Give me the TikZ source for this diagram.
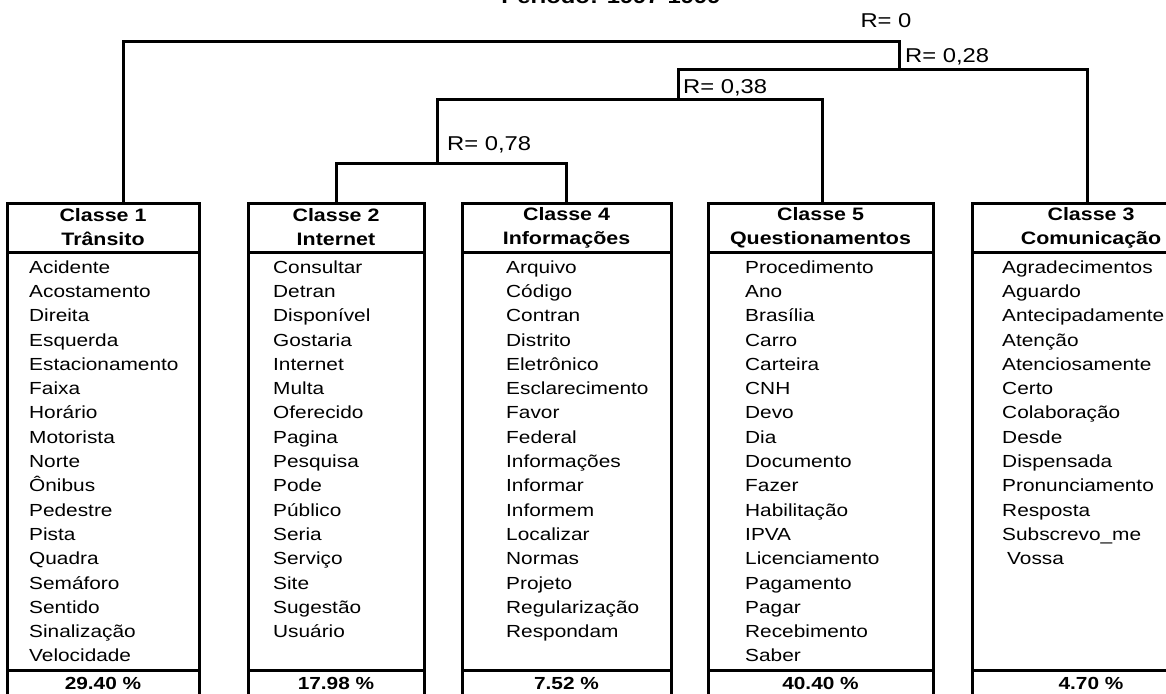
\documentclass[tikz,border=0pt]{standalone}
\usepackage{fontspec}
\setmainfont{Liberation Sans}[FakeStretch=1.19]
\usetikzlibrary{positioning}

\begin{document}
\begin{tikzpicture}[x=1pt,y=-1pt,
  frame/.style={draw,line width=3pt,inner sep=0pt,outer sep=0pt,anchor=north west},
  head/.style={frame,minimum height=49pt,align=center,font=\bfseries\fontsize{18}{24}\selectfont},
  list/.style={frame,minimum height=418pt},
  pct/.style={frame,minimum height=26pt,font=\bfseries\fontsize{17.5}{21}\selectfont},
  word/.style={anchor=base west,inner sep=0pt,font=\fontsize{17.5}{21}\selectfont},
  rlab/.style={inner sep=0pt,font=\fontsize{20}{24}\selectfont},
  link/.style={line width=3pt}]
  \useasboundingbox (0,0) rectangle (1166,693);
  % title, cut at the top
  \node[anchor=base,font=\bfseries\fontsize{20}{24}\selectfont] (title) at (611,4) {Período: 1997-1999};
  % class boxes
  \foreach \k/\xl/\bw/\nm/\pc in {1/7/192/Trânsito/29.40,2/248/176/Internet/17.98,4/462/209/Informações/7.52,
                                 5/708/225/Questionamentos/40.40,3/972/238/Comunicação/4.70} {
    \node[head,minimum width=\bw pt] (h\k) at (\xl,203) {Classe \k\\\nm};
    \node[list,minimum width=\bw pt] (l\k) at (h\k.south west) {};
    \node[pct,minimum width=\bw pt] (p\k) at (l\k.south west) {\pc\ \%};
  }
  % words
  \foreach \w [count=\i] in {Acidente,Acostamento,Direita,Esquerda,Estacionamento,Faixa,Horário,Motorista,
      Norte,Ônibus,Pedestre,Pista,Quadra,Semáforo,Sentido,Sinalização,Velocidade}
    \node[word] (a\i) at (29,248.8+24.3*\i) {\w};
  \foreach \w [count=\i] in {Consultar,Detran,Disponível,Gostaria,Internet,Multa,Oferecido,Pagina,Pesquisa,Pode,
      Público,Seria,Serviço,Site,Sugestão,Usuário}
    \node[word] (b\i) at (273,248.8+24.3*\i) {\w};
  \foreach \w [count=\i] in {Arquivo,Código,Contran,Distrito,Eletrônico,Esclarecimento,Favor,Federal,Informações,
      Informar,Informem,Localizar,Normas,Projeto,Regularização,Respondam}
    \node[word] (d\i) at (506,248.8+24.3*\i) {\w};
  \foreach \w [count=\i] in {Procedimento,Ano,Brasília,Carro,Carteira,CNH,Devo,Dia,Documento,Fazer,
      Habilitação,IPVA,Licenciamento,Pagamento,Pagar,Recebimento,Saber}
    \node[word] (e\i) at (745,248.8+24.3*\i) {\w};
  \foreach \w [count=\i] in {Agradecimentos,Aguardo,Antecipadamente,Atenção,Atenciosamente,Certo,Colaboração,Desde,
      Dispensada,Pronunciamento,Resposta,Subscrevo\_me,\hspace*{5pt}Vossa}
    \node[word] (c\i) at (1002,248.8+24.3*\i) {\w};
  % tree
  \coordinate (t1) at (123,203);
  \coordinate (t2) at (h2.north);
  \coordinate (t4) at (h4.north);
  \coordinate (t5) at (822,203);
  \coordinate (t3) at (1087,203);
  \coordinate (m0) at (899,42);
  \coordinate (m28) at (899,69);
  \coordinate (m38) at (678,99);
  \coordinate (m78) at (437,163);
  \draw[link] (t1) |- (m0) -- (m28);
  \draw[link] (m38) |- (m28) -| (t3);
  \draw[link] (m78) |- (m38) -| (t5);
  \draw[link] (t2) |- (m78) -| (t4);
  \node[rlab,anchor=base] (r0) at (886,28) {R= 0};
  \node[rlab,anchor=base west] (r28) at (905,63) {R= 0,28};
  \node[rlab,anchor=base west] (r38) at (683,93) {R= 0,38};
  \node[rlab,anchor=base west] (r78) at (447,150) {R= 0,78};
\end{tikzpicture}
\end{document}
